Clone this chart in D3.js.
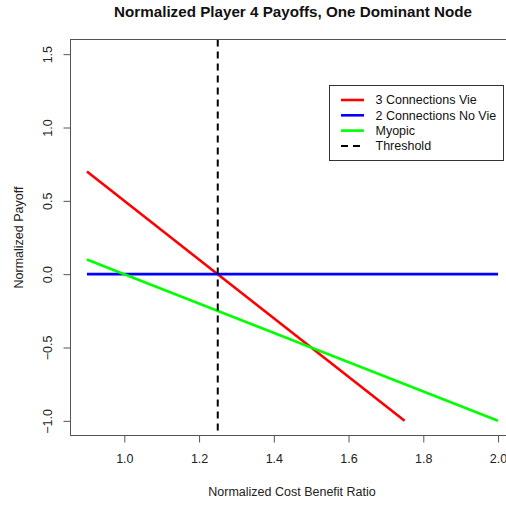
<!DOCTYPE html>
<html><head><meta charset="utf-8">
<script src="https://cdn.jsdelivr.net/npm/d3@7"></script>
<style>body{margin:0;background:#fff}svg{display:block}text{font-family:"Liberation Sans",Arial,sans-serif}</style>
</head><body>
<script>
const seriesNames = ["3 Connections Vie", "2 Connections No Vie", "Myopic"];
const seriesColors = ["#ff0000", "#0000ff", "#00ff00"];
const vieX = [0.9, 1.25, 1.5, 1.75];
const vieY = [0.7, 0.0, -0.5, -1.0];
const noVieX = [0.9, 1.25, 2.0];
const noVieY = [0.0, 0.0, 0.0];
const myopicX = [0.9, 1.0, 1.5, 2.0];
const myopicY = [0.1, 0.0, -0.5, -1.0];
const threshold = 1.25;
const xTicks = [1.0, 1.2, 1.4, 1.6, 1.8, 2.0];
const yTicks = [-1.0, -0.5, 0.0, 0.5, 1.0, 1.5];

const W = 506, H = 506;
const L = 70.5, R = 514.5, T = 39.5, B = 435.5;
const svg = d3.select("body").append("svg").attr("width", W).attr("height", H);
const x = d3.scaleLinear().domain([0.856, 2.044]).range([L, R]);
const y = d3.scaleLinear().domain([-1.1, 1.6]).range([B, T]);

const lineGen = d3.line().x(d => x(d[0])).y(d => y(d[1]));
const series = [
  d3.zip(vieX, vieY),
  d3.zip(noVieX, noVieY),
  d3.zip(myopicX, myopicY)
];
series.forEach((s, i) => {
  svg.append("path").attr("d", lineGen(s)).attr("fill", "none")
    .attr("stroke", seriesColors[i]).attr("stroke-width", 2.6);
});
svg.append("line").attr("x1", x(threshold)).attr("x2", x(threshold))
  .attr("y1", T).attr("y2", B).attr("stroke", "#000").attr("stroke-width", 2)
  .attr("stroke-dasharray", "7,5");

// box
svg.append("rect").attr("x", L).attr("y", T).attr("width", R - L).attr("height", B - T)
  .attr("fill", "none").attr("stroke", "#555").attr("stroke-width", 1);

const xa = svg.append("g").attr("transform", `translate(0,${B})`)
  .call(d3.axisBottom(x).tickValues(xTicks).tickSize(7).tickPadding(12).tickFormat(d3.format(".1f")));
xa.select(".domain").remove();
xa.selectAll("line").attr("stroke", "#555");
xa.selectAll("text").attr("font-size", 12.5).attr("fill", "#222");

const ya = svg.append("g").attr("transform", `translate(${L},0)`)
  .call(d3.axisLeft(y).tickValues(yTicks).tickSize(7).tickFormat(d3.format(".1f")));
ya.select(".domain").remove();
ya.selectAll("line").attr("stroke", "#555");
ya.selectAll("text").remove();
ya.selectAll(".tick").append("text")
  .attr("transform", "translate(-22.5,0) rotate(-90)")
  .attr("text-anchor", "middle").attr("dy", "0.35em")
  .attr("font-size", 12.5).attr("fill", "#222")
  .text(d => d3.format(".1f")(d));

svg.append("text").attr("x", 293).attr("y", 17).attr("text-anchor", "middle")
  .attr("font-size", 15.2).attr("font-weight", "bold").attr("fill", "#111")
  .text("Normalized Player 4 Payoffs, One Dominant Node");
svg.append("text").attr("x", 292).attr("y", 496).attr("text-anchor", "middle")
  .attr("font-size", 12.5).attr("fill", "#222").text("Normalized Cost Benefit Ratio");
svg.append("text").attr("transform", `translate(23,${(T + B) / 2}) rotate(-90)`)
  .attr("text-anchor", "middle").attr("font-size", 12.5).attr("fill", "#222")
  .text("Normalized Payoff");

// legend
const lg = svg.append("g");
lg.append("rect").attr("x", 329.5).attr("y", 85.5).attr("width", 174).attr("height", 75)
  .attr("fill", "#fff").attr("stroke", "#333").attr("stroke-width", 1);
const legNames = seriesNames.concat(["Threshold"]);
const legColors = seriesColors.concat(["#000"]);
legNames.forEach((n, i) => {
  const yy = 100 + i * 15.3;
  lg.append("line").attr("x1", 341).attr("x2", 364).attr("y1", yy).attr("y2", yy)
    .attr("stroke", legColors[i]).attr("stroke-width", i === 3 ? 2 : 2.6)
    .attr("stroke-dasharray", i === 3 ? "7,5" : null);
  lg.append("text").attr("x", 375.5).attr("y", yy).attr("dy", "0.35em")
    .attr("font-size", 12.5).attr("fill", "#111").text(n);
});
</script>
</body></html>
